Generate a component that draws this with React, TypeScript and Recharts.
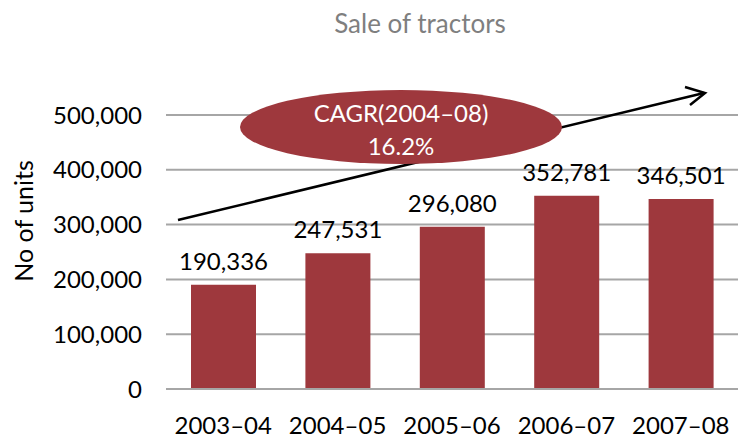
import { BarChart, Bar, XAxis, YAxis, CartesianGrid, LabelList, Customized } from "recharts";

const YEARS = ["2003–04", "2004–05", "2005–06", "2006–07", "2007–08"];
const UNITS = [190336, 247531, 296080, 352781, 346501];
const Y_TICKS = [0, 100000, 200000, 300000, 400000, 500000];

const BAR_COLOR = "#9e383d";
const FONT = "Lato, 'Open Sans', sans-serif";

const data = YEARS.map((year, i) => ({ year, units: UNITS[i] }));

function fmt(v: number): string {
  return v.toLocaleString("en-US");
}

// title, axis label and the CAGR callout
function Overlay() {
  return (
    <g fontFamily={FONT}>
      <text x={420} y={33} textAnchor="middle" fontSize={26} fill="#7f7f7f">
        Sale of tractors
      </text>
      <text
        x={33}
        y={221}
        textAnchor="middle"
        fontSize={25}
        fill="#000"
        transform="rotate(-90 33 221)"
      >
        No of units
      </text>
      <line x1={178} y1={220} x2={704} y2={93} stroke="#000" strokeWidth={2.5} />
      <polyline points="685,87 705,93 690,105" fill="none" stroke="#000" strokeWidth={2.5} />
      <ellipse cx={401} cy={127} rx={161} ry={37} fill={BAR_COLOR} />
      <text x={401} y={122} textAnchor="middle" fontSize={24} fill="#fff">
        CAGR(2004–08)
      </text>
      <text x={401} y={155} textAnchor="middle" fontSize={24} fill="#fff">
        16.2%
      </text>
    </g>
  );
}

export default function App() {
  return (
    <div style={{ position: "absolute", left: 0, top: 0, background: "#fff" }}>
      <BarChart
        width={738}
        height={441}
        data={data}
        margin={{ top: 115, right: 0, bottom: 0, left: 0 }}
      >
        <CartesianGrid vertical={false} stroke="#a6a6a6" strokeWidth={2} />
        <XAxis
          dataKey="year"
          height={52}
          tickLine={false}
          axisLine={{ stroke: "#a6a6a6", strokeWidth: 2 }}
          tickSize={0}
          tickMargin={28}
          tick={{ fill: "#000", fontSize: 24, fontFamily: FONT }}
        />
        <YAxis
          width={166}
          domain={[0, 500000]}
          ticks={Y_TICKS}
          tickFormatter={fmt}
          tickLine={false}
          axisLine={false}
          tickSize={0}
          tickMargin={24}
          tick={{ fill: "#000", fontSize: 24, fontFamily: FONT }}
        />
        <Bar dataKey="units" fill={BAR_COLOR} barSize={65} isAnimationActive={false}>
          <LabelList
            dataKey="units"
            position="top"
            offset={15}
            formatter={(v: number) => fmt(v)}
            style={{ fill: "#000", fontSize: 24, fontFamily: FONT }}
          />
        </Bar>
        <Customized component={<Overlay />} />
      </BarChart>
    </div>
  );
}
